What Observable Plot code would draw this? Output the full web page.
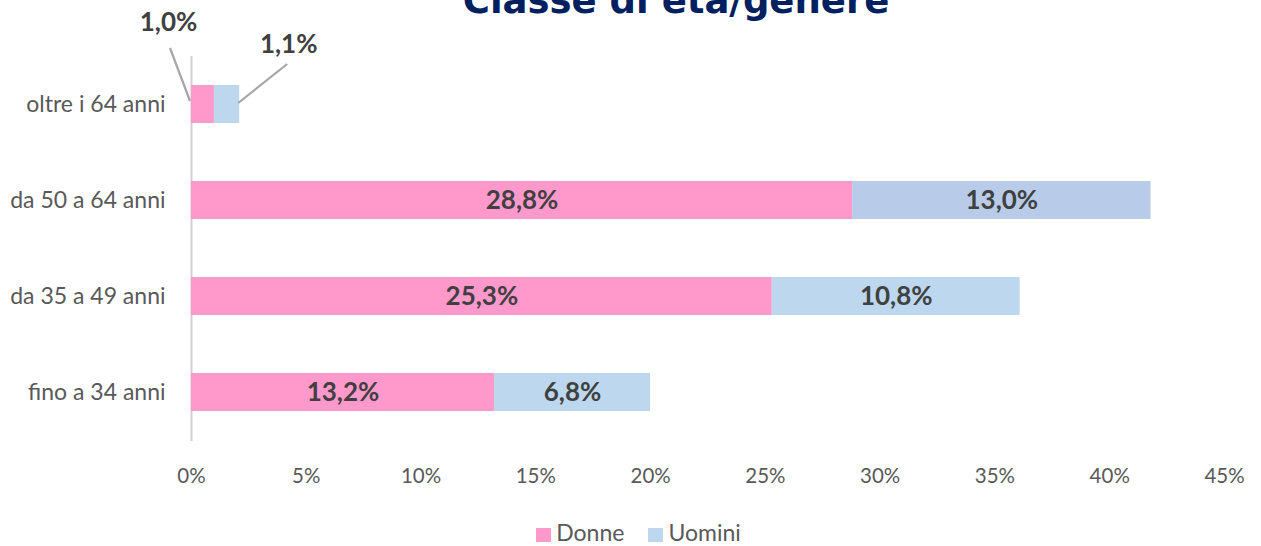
<!DOCTYPE html>
<html>
<head>
<meta charset="utf-8">
<script src="https://cdn.jsdelivr.net/npm/d3@7"></script>
<script src="https://cdn.jsdelivr.net/npm/@observablehq/plot@0.6"></script>
<style>
  html, body { margin: 0; padding: 0; background: #fff; overflow: hidden; }
  #wrap { position: relative; width: 1261px; height: 546px; }
  #title { position: absolute; left: 0; width: 1261px; top: -18px; text-align: center;
    font-family: "DejaVu Sans", sans-serif; font-weight: bold; font-size: 37px; line-height: 37px; color: #002060; padding-left: 91px; box-sizing: border-box; white-space: nowrap; }
  #chart { position: absolute; left: 0; top: 0; }
  #legend { position: absolute; left: 0; width: 1261px; top: 519px; text-align: center;
    font-family: Lato, sans-serif; font-size: 23px; line-height: 26px; color: #595959; padding-left: 16px; box-sizing: border-box; }
  #legend span.sw { display: inline-block; width: 15px; height: 14px; margin-right: 5px; vertical-align: -1px; }
  #legend span.item { margin: 0 12px; }
</style>
</head>
<body>
<div id="wrap">
  <div id="chart"></div>
  <div id="title">Classe di età/genere</div>
  <div id="legend"></div>
</div>
<script>
const categories = ["oltre i 64 anni", "da 50 a 64 anni", "da 35 a 49 anni", "fino a 34 anni"];
const series = ["Donne", "Uomini"];
const donne = [1.0, 28.8, 25.3, 13.2];
const uomini = [1.1, 13.0, 10.8, 6.8];
const xTicks = [0, 5, 10, 15, 20, 25, 30, 35, 40, 45];
const colors = ["#FF99CC", "#BDD7EE"];

const rows = [];
categories.forEach((c, i) => {
  rows.push({age: c, gender: "Donne", value: donne[i], x1: 0, x2: donne[i]});
  rows.push({age: c, gender: "Uomini", value: uomini[i], x1: donne[i], x2: donne[i] + uomini[i]});
});
const fmt = v => v.toFixed(1).replace(".", ",") + "%";
const inside = rows.filter(d => d.age !== "oltre i 64 anni");
const outside = rows.filter(d => d.age === "oltre i 64 anni");
const outOffsets = {Donne: {ax: d => d.x1, lx: -21, ly: -56, sy: -3},
                    Uomini: {ax: d => d.x2, lx: 48, ly: -40, sy: -1}};

const font = "Lato, sans-serif";
const plot = Plot.plot({
  width: 1261,
  height: 505,
  marginLeft: 191,
  marginRight: 37,
  marginTop: 56,
  marginBottom: 64,
  style: {fontFamily: font, fontSize: "20px", color: "#595959", background: "transparent"},
  x: {domain: [0, 45], ticks: xTicks, tickFormat: d => d + "%", label: null},
  y: {domain: categories, paddingInner: 0.6, paddingOuter: 0.3, label: null},
  color: {domain: series, range: colors},
  marks: [
    Plot.axisX({ticks: xTicks, tickFormat: d => d + "%", tickSize: 0, tickPadding: 27, fontSize: 20.5, label: null}),
    Plot.axisY({tickSize: 0, tickPadding: 26, fontSize: 23, label: null}),
    Plot.ruleX([0], {stroke: "#d0d0d0", strokeWidth: 2}),
    Plot.barX(rows, {y: "age", x1: "x1", x2: "x2",
      fill: d => (d.gender === "Uomini" && d.age === "da 50 a 64 anni") ? "#B8CCEA" : (d.gender === "Donne" ? colors[0] : colors[1])}),
    Plot.text(inside, {y: "age", x: d => (d.x1 + d.x2) / 2, text: d => fmt(d.value),
      fill: "#404040", fontWeight: "bold", fontSize: 26}),
    Plot.text(outside.filter(d => d.gender === "Donne"), {y: "age", x: d => d.x1, text: d => fmt(d.value),
      dx: -23, dy: -82, fill: "#404040", fontWeight: "bold", fontSize: 26}),
    Plot.text(outside.filter(d => d.gender === "Uomini"), {y: "age", x: d => d.x2, text: d => fmt(d.value),
      dx: 49, dy: -60, fill: "#404040", fontWeight: "bold", fontSize: 26}),
    (index, scales) => {
      const g = d3.create("svg:g").attr("stroke", "#a6a6a6").attr("stroke-width", 2.2).attr("fill", "none");
      const bw = scales.y.bandwidth ? scales.y.bandwidth() : 0;
      outside.forEach(d => {
        const o = outOffsets[d.gender];
        const px = scales.x(o.ax(d));
        const py = scales.y(d.age) + bw / 2;
        g.append("line").attr("x1", px - 1).attr("y1", py + o.sy).attr("x2", px + o.lx).attr("y2", py + o.ly);
      });
      return g.node();
    }
  ]
});
plot.style.background = "transparent";
document.getElementById("chart").appendChild(plot);

const legend = document.getElementById("legend");
series.forEach((s, i) => {
  const item = document.createElement("span");
  item.className = "item";
  item.innerHTML = `<span class="sw" style="background:${colors[i]}"></span>${s}`;
  legend.appendChild(item);
});
</script>
</body>
</html>
